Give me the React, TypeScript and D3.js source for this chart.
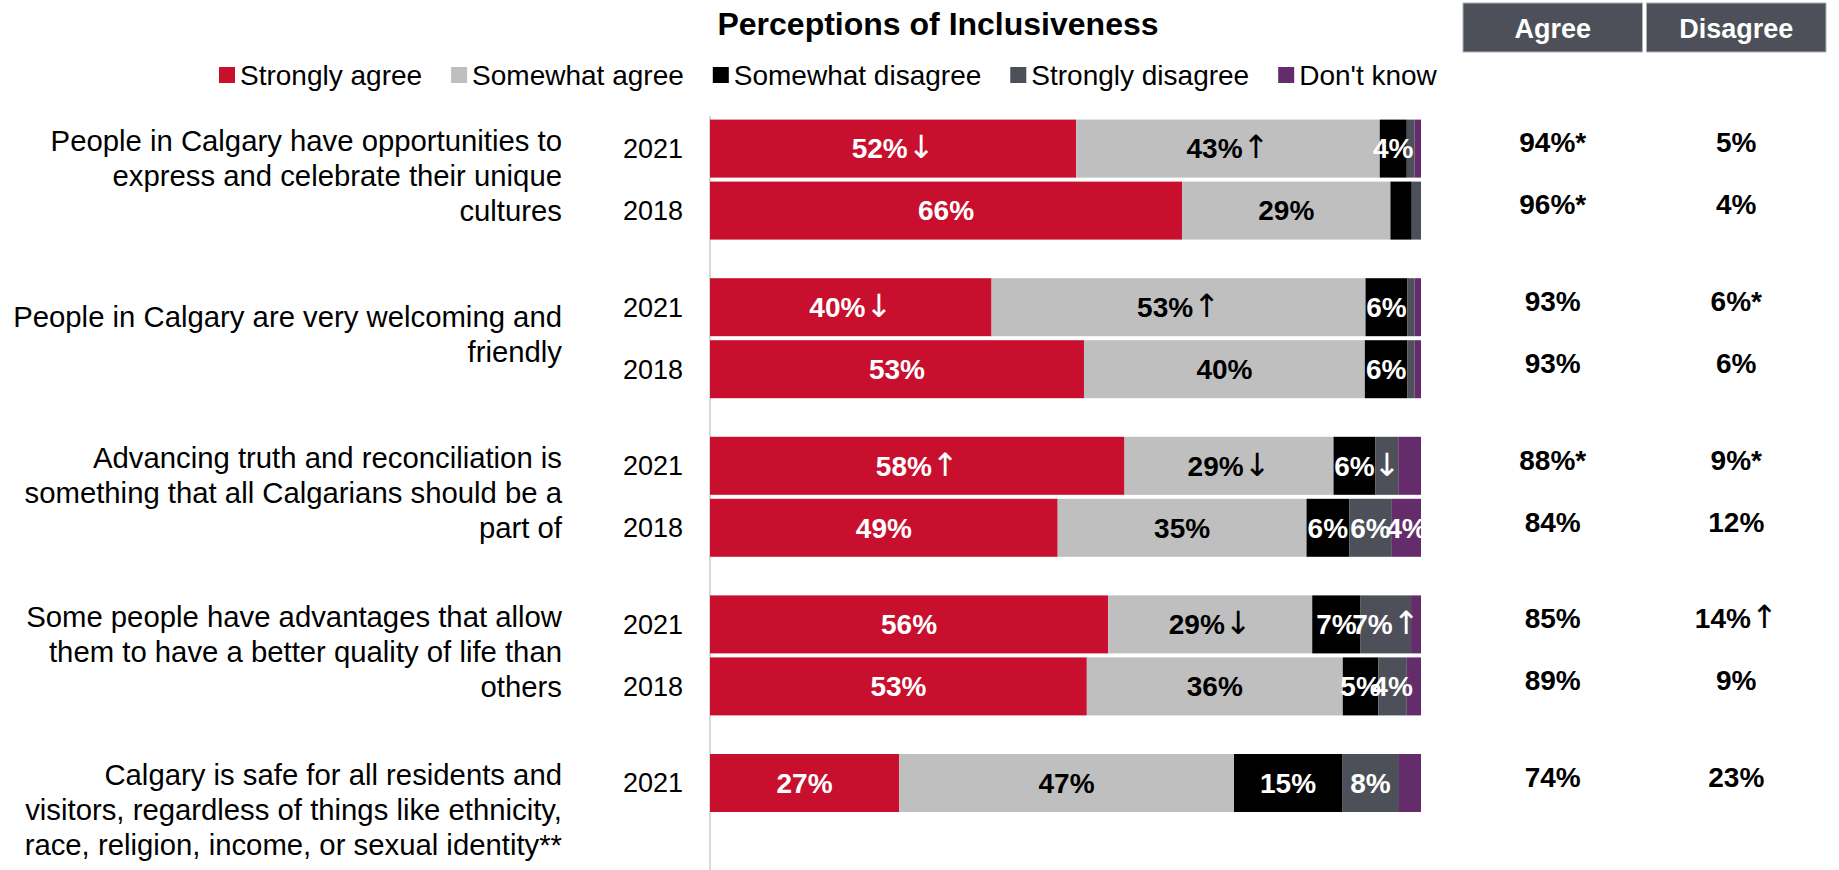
import React, { useRef, useEffect } from 'react';
import * as d3 from 'd3';

// statements (wrapped as in the original slide)
const statements = [
  ['People in Calgary have opportunities to', 'express and celebrate their unique', 'cultures'],
  ['People in Calgary are very welcoming and', 'friendly'],
  ['Advancing truth and reconciliation is', 'something that all Calgarians should be a', 'part of'],
  ['Some people have advantages that allow', 'them to have a better quality of life than', 'others'],
  ['Calgary is safe for all residents and', 'visitors, regardless of things like ethnicity,', 'race, religion, income, or sexual identity**'],
];

const categories = ['Strongly agree', 'Somewhat agree', 'Somewhat disagree', 'Strongly disagree', "Don't know"];

// one entry per bar
const rowGroup = [0, 0, 1, 1, 2, 2, 3, 3, 4];
const rowYear = ['2021', '2018', '2021', '2018', '2021', '2018', '2021', '2018', '2021'];

const stronglyAgree = [51.5, 66.4, 39.6, 52.6, 58.3, 48.9, 56.0, 53.0, 26.6];
const somewhatAgree = [42.7, 29.3, 52.6, 39.5, 29.4, 35.0, 28.7, 36.0, 47.1];
const somewhatDisagree = [3.8, 3.0, 5.9, 6.0, 5.9, 6.0, 6.8, 5.0, 15.2];
const stronglyDisagree = [1.1, 1.3, 1.0, 1.0, 3.2, 6.0, 7.1, 4.0, 8.0];
const dontKnow = [0.9, 0, 0.9, 0.9, 3.2, 4.1, 1.4, 2.0, 3.1];

// significance arrows per segment
const arrowsSA = ['↓', '', '↓', '', '↑', '', '', '', ''];
const arrowsSWA = ['↑', '', '↑', '', '↓', '', '↓', '', ''];
const arrowsSWD = ['', '', '', '', '', '', '', '', ''];
const arrowsSD = ['', '', '', '', '↓', '', '↑', '', ''];
const arrowsDK = ['', '', '', '', '', '', '', '', ''];

const agreeTotals = ['94%*', '96%*', '93%', '93%', '88%*', '84%', '85%', '89%', '74%'];
const disagreeTotals = ['5%', '4%', '6%*', '6%', '9%*', '12%', '14%↑', '9%', '23%'];
const totalHeaders = ['Agree', 'Disagree'];

const colors = ['#c8102e', '#bfbfbf', '#000000', '#4d5058', '#652c6c'];
const labelColors = ['#fff', '#000', '#fff', '#fff', '#fff'];
const FONT = '"Liberation Sans", Arial, sans-serif';
const ARROW_FONT = '"DejaVu Sans", sans-serif';

const App: React.FC = () => {
  const svgRef = useRef<SVGSVGElement | null>(null);

  useEffect(() => {
    const svg = d3.select(svgRef.current!);
    svg.selectAll('*').remove();
    svg.attr('width', 1839).attr('height', 870).style('font-family', FONT);

    const series = [stronglyAgree, somewhatAgree, somewhatDisagree, stronglyDisagree, dontKnow];
    const arrows = [arrowsSA, arrowsSWA, arrowsSWD, arrowsSD, arrowsDK];

    const x = d3.scaleLinear().domain([0, 100]).range([710, 1421]);
    const yGroup = d3.scaleBand<number>()
      .domain(d3.range(statements.length))
      .range([119.6, 874])
      .paddingInner(0.2434)
      .paddingOuter(0);
    const yYear = d3.scaleBand<string>()
      .domain(['2021', '2018'])
      .range([0, yGroup.bandwidth()])
      .paddingInner(0.0645)
      .paddingOuter(0);
    const rowY = (i: number) => yGroup(rowGroup[i])! + yYear(rowYear[i])!;
    const bh = yYear.bandwidth();

    // title
    svg.append('text')
      .attr('x', 938).attr('y', 35)
      .attr('text-anchor', 'middle')
      .attr('font-size', 32).attr('font-weight', 'bold')
      .text('Perceptions of Inclusiveness');

    // legend
    let lx = 219;
    categories.forEach((c, k) => {
      const g = svg.append('g');
      g.append('rect').attr('x', lx).attr('y', 67).attr('width', 16).attr('height', 16).attr('fill', colors[k]);
      const t = g.append('text').attr('x', lx + 21).attr('y', 85).attr('font-size', 28).text(c);
      const w = (t.node() as SVGTextElement).getComputedTextLength();
      lx += 21 + w + 29;
    });

    // header boxes
    const colX = d3.scaleBand<string>().domain(totalHeaders).range([1463, 1826]).paddingInner(0.022);
    totalHeaders.forEach((h) => {
      svg.append('rect')
        .attr('x', colX(h)!).attr('y', 3).attr('width', colX.bandwidth()).attr('height', 49)
        .attr('fill', '#4d5058').attr('stroke', '#b0b2b6').attr('stroke-width', 1);
      svg.append('text')
        .attr('x', colX(h)! + colX.bandwidth() / 2).attr('y', 29).attr('dy', '0.35em')
        .attr('text-anchor', 'middle').attr('fill', '#fff')
        .attr('font-size', 27).attr('font-weight', 'bold')
        .text(h);
    });

    // axis line
    svg.append('line')
      .attr('x1', x(0)).attr('x2', x(0)).attr('y1', 116).attr('y2', 870)
      .attr('stroke', '#d9d9d9').attr('stroke-width', 2);

    // statements
    statements.forEach((lines, g) => {
      const cy = yGroup(g)! + yGroup.bandwidth() / 2 - 4;
      const lh = 35;
      const t = svg.append('text')
        .attr('text-anchor', 'end').attr('font-size', 29.3).attr('fill', '#000');
      lines.forEach((ln, j) => {
        t.append('tspan')
          .attr('x', 562)
          .attr('y', cy + (j - (lines.length - 1) / 2) * lh)
          .attr('dy', '0.35em')
          .text(ln);
      });
    });

    const addArrow = (t: d3.Selection<SVGTextElement, unknown, null, undefined>, a: string) => {
      t.append('tspan')
        .attr('font-weight', 'normal').attr('font-family', ARROW_FONT).attr('font-size', 32)
        .text(a);
    };

    // bars
    rowYear.forEach((yr, i) => {
      const y0 = rowY(i);
      svg.append('text')
        .attr('x', 683).attr('y', y0 + bh / 2).attr('dy', '0.35em')
        .attr('text-anchor', 'end').attr('font-size', 27)
        .text(yr);

      let acc = 0;
      series.forEach((s, k) => {
        const v = s[i];
        const x0 = x(acc);
        const x1 = x(acc + v);
        acc += v;
        if (v <= 0) return;
        svg.append('rect')
          .attr('x', x0).attr('y', y0).attr('width', x1 - x0).attr('height', bh)
          .attr('fill', colors[k]);
      });

      acc = 0;
      series.forEach((s, k) => {
        const v = s[i];
        const cx = x(acc + v / 2);
        acc += v;
        const r = Math.round(v);
        const num = r >= 4 ? `${r}%` : '';
        const arr = arrows[k][i];
        if (!num && !arr) return;
        const t = svg.append('text')
          .attr('x', cx).attr('y', y0 + bh / 2).attr('dy', '0.35em')
          .attr('text-anchor', 'middle').attr('font-size', 28)
          .attr('fill', labelColors[k]);
        if (num) t.append('tspan').attr('font-weight', 'bold').text(num);
        if (arr) addArrow(t as any, arr);
      });

      // totals
      [agreeTotals, disagreeTotals].forEach((arr, c) => {
        const label = arr[i];
        const m = label.match(/^(.*?)([↑↓]?)$/)!;
        const t = svg.append('text')
          .attr('x', colX(totalHeaders[c])! + colX.bandwidth() / 2)
          .attr('y', y0 + bh / 2 - 6).attr('dy', '0.35em')
          .attr('text-anchor', 'middle').attr('font-size', 28);
        t.append('tspan').attr('font-weight', 'bold').text(m[1]);
        if (m[2]) addArrow(t as any, m[2]);
      });
    });
  }, []);

  return <svg ref={svgRef} style={{ position: 'absolute', left: 0, top: 0 }}></svg>;
};

export default App;
